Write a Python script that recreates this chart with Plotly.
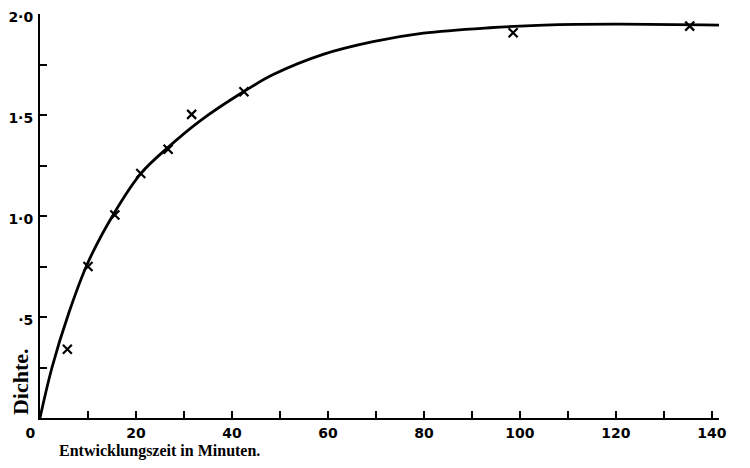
import plotly.graph_objects as go

# Measured points (crosses)
time_points = [5.7, 10.0, 15.6, 21.0, 26.7, 31.6, 42.5, 98.6, 135.4]
density_points = [0.34, 0.75, 1.005, 1.21, 1.33, 1.503, 1.615, 1.907, 1.94]

# Drawn smooth curve
curve_time = [0, 2.5, 6.0, 10.0, 15.6, 21.0, 26.7, 33.3, 42.4, 48.6, 59.0,
              69.4, 79.9, 93.7, 105.0, 120.0, 141.5]
curve_density = [0, 0.25, 0.52, 0.77, 1.02, 1.21, 1.34, 1.47, 1.615, 1.70, 1.80,
                 1.863, 1.905, 1.932, 1.945, 1.95, 1.945]

x_tickvals = [0, 10, 20, 30, 40, 50, 60, 70, 80, 90, 100, 110, 120, 130, 140]
x_ticktext = ["0\u00a0\u00a0\u00a0\u00a0", "", "20", "", "40", "", "60", "", "80", "", "100", "", "120", "", "140"]
y_tickvals = [0, 0.25, 0.5, 0.75, 1.0, 1.25, 1.5, 1.75, 2.0]
y_ticktext = ["", "", "·5", "", "1·0", "", "1·5", "", "2·0"]

fig = go.Figure()
fig.add_trace(go.Scatter(
    x=curve_time, y=curve_density, mode="lines",
    line=dict(color="black", width=2.8, shape="spline", smoothing=1.0),
    showlegend=False, hoverinfo="skip"))
fig.add_trace(go.Scatter(
    x=time_points, y=density_points, mode="markers",
    marker=dict(symbol="x-thin", size=9, line=dict(color="black", width=2.2), color="black"),
    showlegend=False, cliponaxis=False))

tick_font = dict(family="DejaVu Sans", size=14, color="black", weight="bold")
fig.update_xaxes(
    range=[0, 141.5], tickmode="array", tickvals=x_tickvals, ticktext=x_ticktext,
    ticks="inside", ticklen=7, tickwidth=2, tickcolor="black",
    showline=True, linecolor="black", linewidth=2, showgrid=False, zeroline=False,
    tickfont=tick_font, ticklabelstandoff=1, automargin=False, ticklabeloverflow="allow")
fig.update_yaxes(
    range=[0, 2.0], tickmode="array", tickvals=y_tickvals, ticktext=y_ticktext,
    ticks="inside", ticklen=7, tickwidth=2, tickcolor="black",
    showline=True, linecolor="black", linewidth=2, showgrid=False, zeroline=False,
    tickfont=tick_font, ticklabelstandoff=2, ticklabelshift=3,
    automargin=False, ticklabeloverflow="allow")

fig.update_layout(
    width=742, height=460,
    margin=dict(l=32, r=31, t=6, b=50),
    paper_bgcolor="white", plot_bgcolor="white",
    annotations=[
        dict(text="Entwicklungszeit in Minuten.", xref="paper", yref="paper",
             x=0.025, y=-0.082, xanchor="left", yanchor="middle", showarrow=False,
             font=dict(family="Liberation Serif", size=16, color="black", weight="bold")),
        dict(text="Dichte.", xref="paper", yref="paper", textangle=-90,
             x=-0.0294, y=0.089, xanchor="center", yanchor="middle", showarrow=False,
             font=dict(family="Liberation Serif", size=22, color="black", weight="bold")),
    ],
)

fig.write_html("out.html")
